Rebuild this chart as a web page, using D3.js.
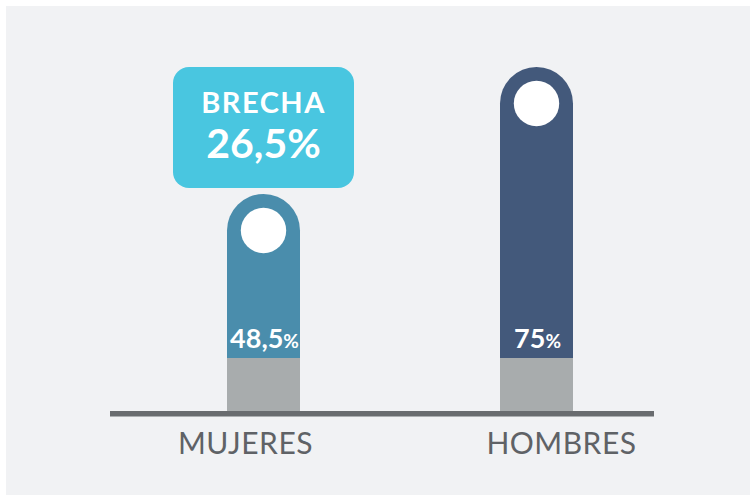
<!DOCTYPE html>
<html>
<head>
<meta charset="utf-8">
<script src="https://cdn.jsdelivr.net/npm/d3@7"></script>
<style>
  html, body { margin: 0; padding: 0; background: #ffffff; }
  svg { display: block; }
</style>
</head>
<body>
<div id="chart"></div>
<script>
const categories = ["MUJERES", "HOMBRES"];
const values = [48.5, 75];
const barColors = ["#4a8dac", "#43597b"];
const gapLabel = "BRECHA";

const width = 750, height = 495;
const baseY = 411;      // top of the baseline
const stemTop = 358;    // where the grey foot starts
const barW = 73;

const es = d3.formatLocale({ decimal: ",", thousands: ".", grouping: [3], currency: ["", "€"] });
const fmt = es.format(".1~f");

const svg = d3.select("#chart").append("svg")
  .attr("width", width)
  .attr("height", height);

svg.append("rect")
  .attr("x", 6).attr("y", 6)
  .attr("width", width - 6).attr("height", height - 6)
  .attr("fill", "#f1f2f4");

const x = d3.scalePoint().domain(categories).range([263.5, 536.5]);
const y = d3.scaleLinear().domain([0, 75]).range([426.4, 67]);

const bars = svg.append("g").selectAll("g")
  .data(categories)
  .join("g")
  .attr("transform", d => `translate(${x(d)},0)`);

// grey foot
bars.append("rect")
  .attr("x", -barW / 2).attr("y", stemTop)
  .attr("width", barW).attr("height", baseY - stemTop)
  .attr("fill", "#a8acad");

// coloured stem with rounded top
const r = barW / 2;
bars.append("path")
  .attr("fill", (d, i) => barColors[i])
  .attr("d", (d, i) => {
    const top = y(values[i]);
    return `M${-r},${stemTop} L${-r},${top + r} A${r},${r} 0 0 1 ${r},${top + r} L${r},${stemTop} Z`;
  });

bars.append("circle")
  .attr("cx", 0)
  .attr("cy", (d, i) => y(values[i]) + r)
  .attr("r", 22.7)
  .attr("fill", "#ffffff");

const valText = bars.append("text")
  .attr("x", 1).attr("y", 348)
  .attr("text-anchor", "middle")
  .attr("fill", "#ffffff")
  .attr("font-family", "Lato, 'Open Sans', sans-serif")
  .attr("font-weight", 700)
  .attr("font-size", 27);
valText.append("tspan").text((d, i) => fmt(values[i]));
valText.append("tspan").attr("font-size", 19).text("%");

// baseline
svg.append("rect")
  .attr("x", 110).attr("y", baseY)
  .attr("width", 544).attr("height", 5.5)
  .attr("fill", "#696c6f");

// category labels
const labelShift = [-18, 25];
svg.append("g").selectAll("text")
  .data(categories)
  .join("text")
  .attr("x", (d, i) => x(d) + labelShift[i])
  .attr("y", 454)
  .attr("text-anchor", "middle")
  .attr("fill", "#5f6266")
  .attr("font-family", "Lato, 'Open Sans', sans-serif")
  .attr("font-weight", 400)
  .attr("font-size", 30)
  .attr("letter-spacing", 0.5)
  .text(d => d);

// gap callout over first bar
const gap = values[1] - values[0];
const bx = x(categories[0]);
const box = svg.append("g").attr("transform", `translate(${bx},0)`);
box.append("rect")
  .attr("x", -90.5).attr("y", 67)
  .attr("width", 181).attr("height", 121)
  .attr("rx", 16)
  .attr("fill", "#49c6e0");
box.append("text")
  .attr("x", 0).attr("y", 113)
  .attr("text-anchor", "middle")
  .attr("fill", "#ffffff")
  .attr("font-family", "Lato, 'Open Sans', sans-serif")
  .attr("font-weight", 700)
  .attr("font-size", 29)
  .attr("letter-spacing", 1.5)
  .text(gapLabel);
box.append("text")
  .attr("x", 0).attr("y", 158)
  .attr("text-anchor", "middle")
  .attr("fill", "#ffffff")
  .attr("font-family", "Lato, 'Open Sans', sans-serif")
  .attr("font-weight", 700)
  .attr("font-size", 41)
  .text(fmt(gap) + "%");
</script>
</body>
</html>
